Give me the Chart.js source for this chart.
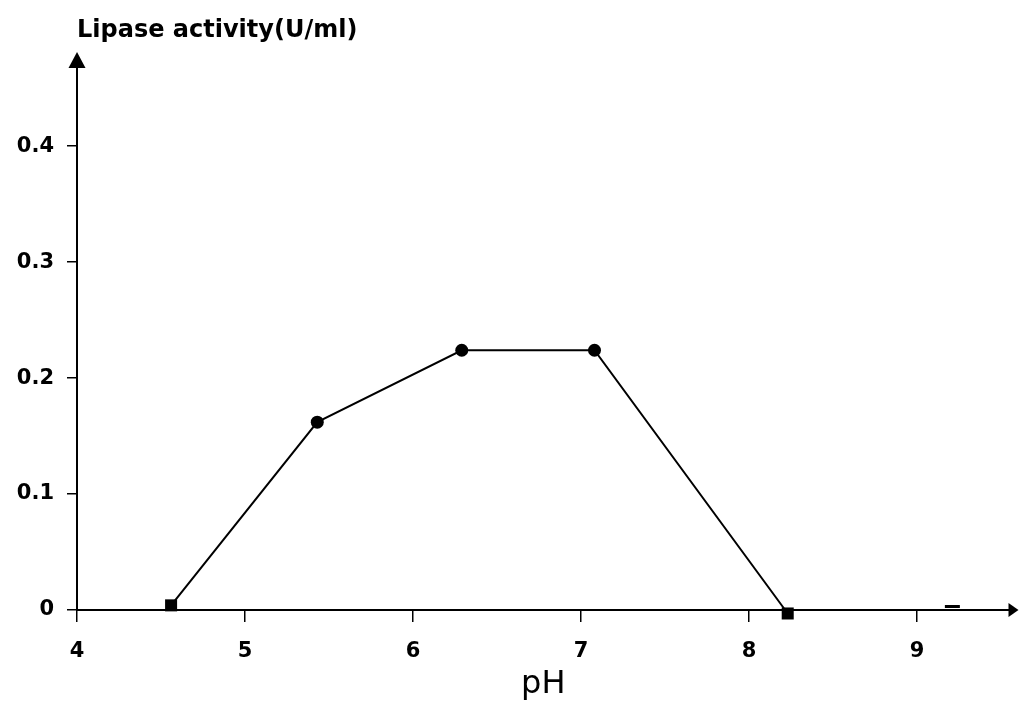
<!DOCTYPE html>
<html><head><meta charset="utf-8">
<script src="https://cdn.jsdelivr.net/npm/chart.js@4.4.1/dist/chart.umd.min.js"></script>
<style>html,body{margin:0;padding:0;background:#fff;}#wrap{width:1020px;height:704px;}</style>
</head><body><div id="wrap"><canvas id="c" width="1020" height="704"></canvas></div>
<script>
const phValues = [4.56, 5.43, 6.29, 7.08, 8.23];
const activityValues = [0.004, 0.162, 0.224, 0.224, -0.003];
const strayPh = [9.21];
const strayActivity = [0.003];
const xTickValues = [4, 5, 6, 7, 8, 9];
const yTickValues = [0, 0.1, 0.2, 0.3, 0.4];
const xLabel = 'pH';
const yLabel = 'Lipase activity(U/ml)';

const tickFont = {family: 'DejaVu Sans', weight: 'bold', size: 21};

const arrows = {
  id: 'arrows',
  afterDraw(chart) {
    const {ctx, chartArea: a} = chart;
    ctx.save();
    ctx.fillStyle = '#000';
    ctx.beginPath();
    ctx.moveTo(a.left, a.top - 13);
    ctx.lineTo(a.left - 8.5, a.top + 3);
    ctx.lineTo(a.left + 8.5, a.top + 3);
    ctx.closePath();
    ctx.fill();
    ctx.beginPath();
    ctx.moveTo(a.right + 9, a.bottom);
    ctx.lineTo(a.right - 1, a.bottom - 7);
    ctx.lineTo(a.right - 1, a.bottom + 7);
    ctx.closePath();
    ctx.fill();
    ctx.restore();
  }
};

new Chart(document.getElementById('c'), {
  type: 'scatter',
  data: {
    datasets: [{
      data: phValues.map((x, i) => ({x, y: activityValues[i]})),
      showLine: true,
      borderColor: '#000',
      backgroundColor: '#000',
      borderWidth: 2,
      tension: 0,
      pointStyle: ['rect', 'circle', 'circle', 'circle', 'rect'],
      pointRadius: [8.5, 6.5, 6.5, 6.5, 8.5],
      pointBorderWidth: 0,
      clip: false
    }, {
      data: strayPh.map((x, i) => ({x, y: strayActivity[i]})),
      showLine: false,
      pointStyle: 'line',
      pointRadius: 7.5,
      pointBorderWidth: 3,
      borderColor: '#000',
      backgroundColor: '#000',
      clip: false
    }]
  },
  options: {
    responsive: false,
    animation: false,
    devicePixelRatio: 1,
    layout: {padding: {left: 0, right: 10, top: 0, bottom: 0}},
    plugins: {
      legend: {display: false},
      tooltip: {enabled: false},
      title: {
        display: true, text: yLabel, align: 'start', color: '#000', fullSize: false,
        font: {family: 'DejaVu Sans', weight: 'bold', size: 24},
        padding: {top: 16, bottom: 20.2}
      }
    },
    scales: {
      x: {
        type: 'linear', min: 4, max: 9.55,
        afterBuildTicks: s => { s.ticks = xTickValues.map(v => ({value: v})); },
        afterFit: s => { s.height = 94; },
        border: {display: true, color: '#000', width: 2},
        grid: {display: true, drawOnChartArea: false, drawTicks: true, tickLength: 12, color: '#000', lineWidth: 1.5},
        ticks: {color: '#000', font: tickFont, padding: 17, maxRotation: 0},
        title: {display: true, text: xLabel, color: '#000', font: {family: 'DejaVu Sans', size: 32}, padding: {top: 0, bottom: 0}}
      },
      y: {
        type: 'linear', min: 0, max: 0.47,
        afterBuildTicks: s => { s.ticks = yTickValues.map(v => ({value: v})); },
        afterFit: s => { s.width = 77; },
        border: {display: true, color: '#000', width: 2},
        grid: {display: true, drawOnChartArea: false, drawTicks: true, tickLength: 10, color: '#000', lineWidth: 1.5},
        ticks: {color: '#000', font: tickFont, padding: 13, callback: v => v === 0 ? '0' : v.toFixed(1)}
      }
    }
  },
  plugins: [arrows]
});
</script>
</body></html>
